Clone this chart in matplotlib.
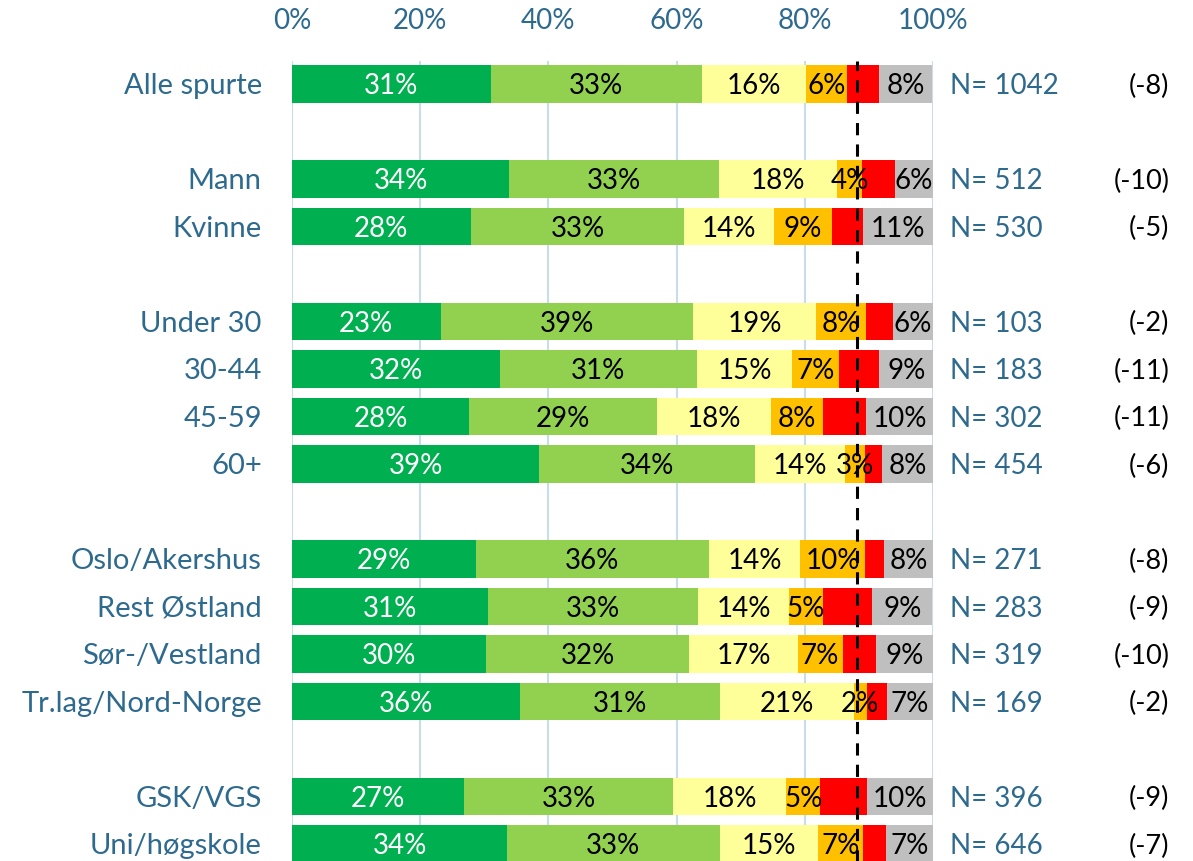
import matplotlib
matplotlib.use("Agg")
import matplotlib.pyplot as plt

plt.rcParams['font.family'] = ['Lato', 'DejaVu Sans']

# rader (None = tom rad mellom gruppene)
groups = ["Alle spurte", None, "Mann", "Kvinne", None,
          "Under 30", "30-44", "45-59", "60+", None,
          "Oslo/Akershus", "Rest Østland", "Sør-/Vestland", "Tr.lag/Nord-Norge", None,
          "GSK/VGS", "Uni/høgskole"]

# andeler i prosent, lest av figuren
svaert_bra = [31.0, 33.9, 27.9, 23.2, 32.4, 27.6, 38.6, 28.7, 30.6, 30.2, 35.6, 26.8, 33.6]
ganske_bra = [32.9, 32.7, 33.3, 39.4, 30.8, 29.3, 33.7, 36.3, 32.8, 31.8, 31.2, 32.7, 33.1]
middels    = [16.3, 18.4, 14.0, 19.1, 14.8, 17.9, 13.9, 14.3, 14.1, 16.9, 20.8, 17.6, 15.4]
ganske_d   = [6.4, 4.0, 9.0, 7.9, 7.3, 8.0, 3.2, 10.1, 5.4, 7.0, 2.1, 5.3, 7.0]
svaert_d   = [4.9, 5.1, 4.9, 4.1, 6.3, 6.8, 2.7, 3.0, 7.6, 5.2, 3.1, 7.3, 3.6]
vet_ikke   = [8.4, 5.9, 10.9, 6.3, 8.7, 10.4, 7.9, 7.6, 9.4, 8.9, 7.2, 10.3, 7.3]

n_values = [1042, 512, 530, 103, 183, 302, 454, 271, 283, 319, 169, 396, 646]
changes = ["(-8)", "(-10)", "(-5)", "(-2)", "(-11)", "(-11)", "(-6)",
           "(-8)", "(-9)", "(-10)", "(-2)", "(-9)", "(-7)"]
ref_line = 88.2

series = [svaert_bra, ganske_bra, middels, ganske_d, svaert_d, vet_ikke]
colors = ['#00b050', '#92d050', '#ffff99', '#ffc000', '#ff0000', '#bfbfbf']
text_colors = ['white', 'black', 'black', 'black', None, 'black']

blue = '#2e6a8e'
fs = 20

fig = plt.figure(figsize=(11.93, 8.62), dpi=100)
ax = fig.add_axes([292 / 1193, -3 / 862, 641 / 1193, 803 / 862])

ypos = [i for i, g in enumerate(groups) if g is not None]
labels = [g for g in groups if g is not None]

left = [0.0] * len(ypos)
for vals, col, tcol in zip(series, colors, text_colors):
    ax.barh(ypos, vals, left=left, height=0.79, color=col, zorder=2)
    for y, l, v in zip(ypos, left, vals):
        if tcol is not None:
            ax.text(l + v / 2, y + 0.03, f"{v:.0f}%", ha='center', va='center',
                    color=tcol, fontsize=fs, zorder=4)
    left = [a + b for a, b in zip(left, vals)]

ax.axvline(ref_line, color='black', linestyle=(0, (4, 3)), linewidth=2.2, zorder=3)

for y, lab, n, ch in zip(ypos, labels, n_values, changes):
    ax.text(-4.7, y + 0.03, lab, ha='right', va='center', color=blue, fontsize=21)
    ax.text(102.6, y + 0.03, f"N= {n}", ha='left', va='center', color=blue, fontsize=20)
    ax.text(136.9, y + 0.03, ch, ha='right', va='center', color='black', fontsize=19.5)

ax.set_xlim(0, 100)
ax.set_ylim(16.42, -0.48)
ax.set_xticks([0, 20, 40, 60, 80, 100])
ax.set_xticklabels([f"{t}%" for t in [0, 20, 40, 60, 80, 100]])
ax.xaxis.tick_top()
ax.tick_params(axis='x', length=0, pad=20, labelsize=20, labelcolor=blue)
ax.set_yticks([])
ax.grid(axis='x', color='#c9dcea', linewidth=1.5, zorder=0)
ax.set_axisbelow(True)
for s in ax.spines.values():
    s.set_visible(False)

fig.savefig("out.png", dpi=100)
